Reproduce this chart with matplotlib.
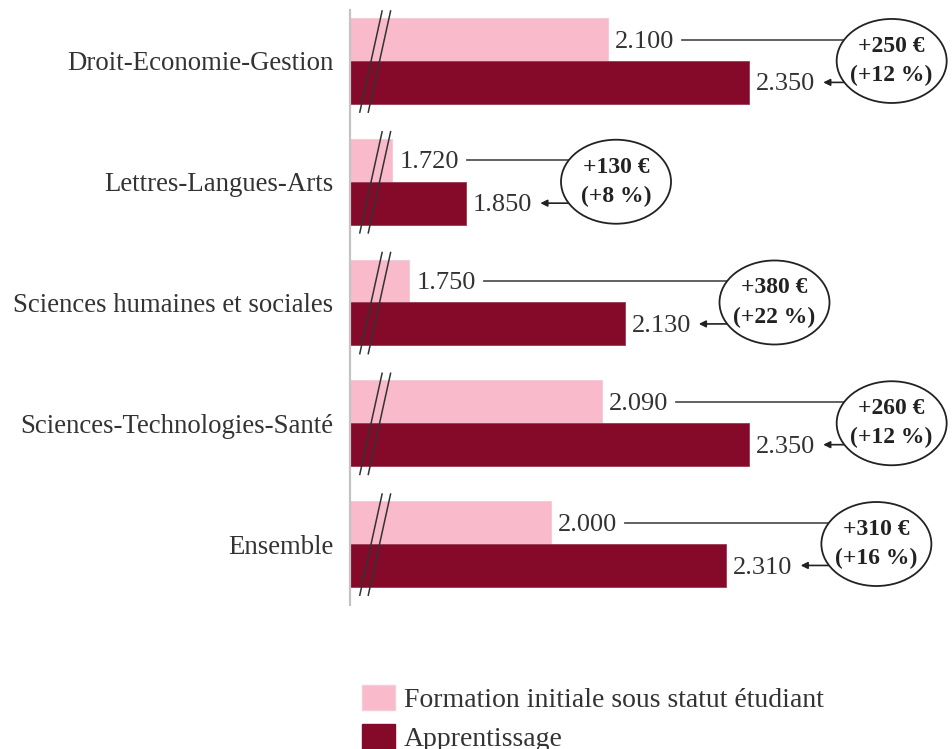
import matplotlib
matplotlib.use("Agg")
import matplotlib.pyplot as plt
from matplotlib.patches import Ellipse, Patch
import numpy as np

categories = ["Droit-Economie-Gestion", "Lettres-Langues-Arts",
              "Sciences humaines et sociales", "Sciences-Technologies-Santé",
              "Ensemble"]
formation_initiale = [2100, 1720, 1750, 2090, 2000]
apprentissage = [2350, 1850, 2130, 2350, 2310]
ecart_euros = [250, 130, 380, 260, 310]
ecart_pct = [12, 8, 22, 12, 16]
legend_labels = ["Formation initiale sous statut étudiant", "Apprentissage"]

PINK = "#F9BACB"
DARK = "#850A2A"
TXT = "#333333"
FONT = "Liberation Serif"
FS_CAT = 19.3
FS_VAL = 19
FS_LEG = 20

plt.rcParams["font.family"] = [FONT, "DejaVu Serif"]

W, H = 952, 749
fig = plt.figure(figsize=(W / 100, H / 100), dpi=100)
ax_left, ax_top, ax_bottom = 350, 10, 605
ax = fig.add_axes([ax_left / W, (H - ax_bottom) / H, (W - ax_left) / W, (ax_bottom - ax_top) / H])

x0 = 1645
px_per_unit = 0.566
ax.set_xlim(x0, x0 + (W - ax_left) / px_per_unit)
ax.set_ylim(4.505, -0.422)

y = np.arange(len(categories))
bh = 0.355
ax.barh(y - bh / 2, [v - x0 for v in formation_initiale], left=x0, height=bh,
        color=PINK, edgecolor="#F4CCD7", linewidth=0.8)
ax.barh(y + bh / 2, [v - x0 for v in apprentissage], left=x0, height=bh,
        color=DARK, edgecolor="#9A3A52", linewidth=0.6)

for s in ["top", "right", "bottom"]:
    ax.spines[s].set_visible(False)
ax.spines["left"].set_color("#C4C4C4")
ax.spines["left"].set_linewidth(1.6)
ax.set_xticks([])
ax.set_yticks(y)
ax.set_yticklabels(categories, fontsize=FS_CAT, color=TXT)
ax.tick_params(axis="y", length=0, pad=12)

# break marks
for yi in y:
    for dx in (0, 15):
        ax.plot([1702 + dx, 1662 + dx], [yi - 0.42, yi + 0.43],
                color="#333333", lw=1.1, solid_capstyle="butt", zorder=5)

def fmt(v):
    return f"{v/1000:.3f}"

fig.canvas.draw()
r = fig.canvas.get_renderer()
inv = ax.transData.inverted()

ew_px, eh_px = 110, 84
ew = ew_px / px_per_unit
eh = eh_px / 120.75
for i in range(len(categories)):
    fi, ap = formation_initiale[i], apprentissage[i]
    yp, yd = i - bh / 2, i + bh / 2
    t1 = ax.annotate(fmt(fi), (fi, yp), xytext=(5, -1.5), textcoords="offset points",
                     ha="left", va="center", fontsize=FS_VAL, color=TXT)
    t2 = ax.annotate(fmt(ap), (ap, yd), xytext=(5, -1.5), textcoords="offset points",
                     ha="left", va="center", fontsize=FS_VAL, color=TXT)
    cx = min(ap + 265, 2602)
    ell = Ellipse((cx, i), ew, eh, facecolor="white", edgecolor="#222222", lw=1.3, zorder=6)
    ax.add_patch(ell)
    ax.text(cx, i, f"+{ecart_euros[i]} €\n(+{ecart_pct[i]} %)", ha="center", va="center",
            fontsize=17, fontweight="bold", color="#222222", linespacing=1.5, zorder=7)
    a = ew / 2
    b = eh / 2
    def ex(dy):
        return cx - a * np.sqrt(max(0.0, 1 - (dy / b) ** 2))
    fig.canvas.draw()
    e1 = t1.get_window_extent(r)
    e2 = t2.get_window_extent(r)
    x1 = inv.transform((e1.x1 + 8, 0))[0]
    x2 = inv.transform((e2.x1 + 8, 0))[0]
    ax.plot([x1, ex(-bh / 2)], [yp, yp], color="#555555", lw=1.3, zorder=4)
    ax.annotate("", xy=(x2, yd), xytext=(ex(bh / 2), yd),
                arrowprops=dict(arrowstyle="-|>", color="#222222", lw=1.2,
                                mutation_scale=10, shrinkA=0, shrinkB=0), zorder=4)

handles = [Patch(facecolor=PINK, edgecolor="#F4CCD7"), Patch(facecolor=DARK, edgecolor=DARK)]
fig.legend(handles, legend_labels, loc="upper left",
           bbox_to_anchor=(362 / W, (H - 685) / H), bbox_transform=fig.transFigure,
           frameon=False, fontsize=FS_LEG, handlelength=1.2, handleheight=1.0,
           handletextpad=0.3, labelspacing=0.4, borderpad=0, borderaxespad=0,
           labelcolor=TXT)

fig.savefig("out.png", dpi=100)
